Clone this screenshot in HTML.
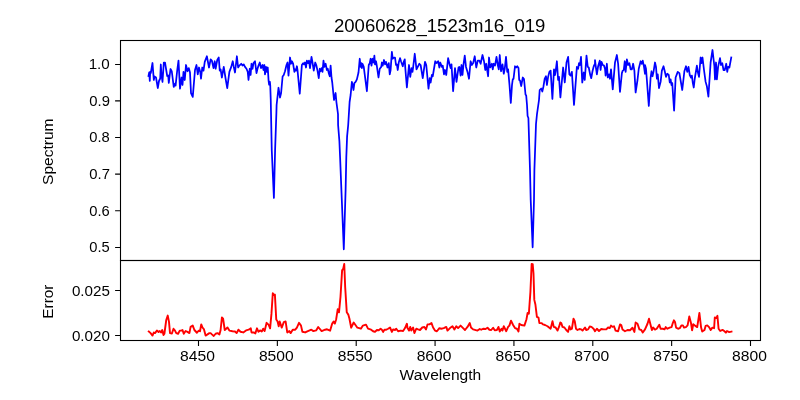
<!DOCTYPE html>
<html><head><meta charset="utf-8"><style>
html,body{margin:0;padding:0;background:#fff;overflow:hidden}
svg{display:block}
text{}
</style></head><body>
<svg width="800" height="400" viewBox="0 0 800 400">
<rect width="800" height="400" fill="#fff"/>
<g fill="none" stroke="#000" stroke-width="1.1" stroke-linecap="square">
<rect x="120.5" y="40.5" width="640" height="220"/>
<rect x="120.5" y="260.5" width="640" height="80"/>
</g>
<path d="M115.1 64.5H120 M115.1 100.9H120 M115.1 137.5H120 M115.1 174.1H120 M115.1 210.7H120 M115.1 247.5H120 M115.1 290.5H120 M115.1 335.5H120 M198.50 341V345.9 M277.36 341V345.9 M356.21 341V345.9 M435.07 341V345.9 M513.93 341V345.9 M592.79 341V345.9 M671.64 341V345.9 M750.50 341V345.9" stroke="#000" stroke-width="1.1" fill="none"/>
<polyline points="148.50,76.00 149.20,72.50 149.80,81.00 150.20,72.00 150.80,73.00 152.50,63.00 153.80,80.00 154.50,76.50 156.00,77.50 157.80,88.00 159.00,81.00 160.20,78.50 160.80,64.50 161.50,75.00 162.50,82.00 163.80,62.50 165.00,62.50 167.20,76.00 168.20,75.50 168.80,83.00 170.50,69.00 171.80,71.50 173.75,86.90 175.00,83.75 175.60,85.60 177.25,70.00 178.50,60.60 180.00,88.75 181.50,77.50 182.50,85.00 183.50,71.90 184.75,80.00 186.00,65.00 187.50,71.25 188.75,68.10 190.00,72.50 191.00,93.10 192.75,96.90 195.00,70.00 196.50,65.00 197.75,74.38 199.00,67.50 200.25,71.88 201.00,78.75 202.25,67.50 203.50,70.62 204.75,61.88 206.88,56.25 209.00,67.50 210.62,59.38 211.88,60.62 213.50,68.12 214.75,61.25 215.62,68.75 217.25,60.00 218.75,57.50 219.75,70.62 220.62,69.38 221.88,77.50 223.75,66.88 225.62,78.75 227.25,88.12 229.38,71.88 231.25,66.88 232.75,61.25 233.75,66.88 235.00,72.50 236.88,56.25 238.12,67.50 239.38,65.62 241.25,63.75 242.50,65.62 243.75,64.38 245.00,66.88 246.50,68.75 247.75,71.88 248.50,80.00 249.75,68.75 250.62,75.00 251.50,63.75 252.50,68.75 253.50,63.12 255.00,61.25 256.50,73.12 257.50,68.75 258.50,65.62 259.75,62.50 261.00,68.12 262.50,65.00 263.50,70.00 264.38,65.00 265.00,74.38 266.00,66.88 266.88,71.88 267.75,67.50 268.60,81.00 269.10,84.75 269.90,81.75 270.25,85.50 270.75,100.00 271.75,150.00 273.90,197.90 275.10,150.00 276.40,112.50 276.60,105.00 278.50,87.75 280.00,97.50 281.10,93.00 282.60,76.50 283.75,75.00 285.00,71.25 286.50,65.00 287.50,62.50 288.50,75.60 290.00,57.50 291.00,63.75 291.90,61.25 293.10,63.75 294.40,71.90 295.00,69.38 296.00,70.62 296.88,66.25 297.50,70.00 299.75,93.75 301.88,65.00 303.12,63.12 304.00,64.38 305.00,62.50 306.00,67.50 306.88,60.62 308.12,63.12 309.00,60.62 310.00,68.12 311.50,56.88 312.50,62.50 313.75,70.62 315.25,62.50 316.25,65.00 317.50,70.62 318.75,78.12 319.75,68.75 320.62,71.25 321.50,68.12 322.50,71.88 323.50,60.62 324.38,66.88 325.62,63.75 326.88,70.00 327.75,68.75 328.75,73.12 329.75,76.25 330.62,65.62 331.50,77.50 332.25,82.50 334.00,100.00 335.60,93.00 336.40,102.00 338.00,114.00 338.10,125.00 339.40,141.30 340.10,157.50 341.40,190.00 343.80,249.30 345.60,190.00 346.30,157.50 347.10,136.40 348.20,125.00 349.60,102.00 350.62,95.00 351.88,81.88 352.75,85.00 353.50,90.00 354.38,83.12 355.62,81.88 356.88,79.38 358.50,72.50 359.75,58.75 360.62,66.88 361.25,63.12 361.88,68.12 362.50,63.75 363.75,66.88 366.88,91.25 368.75,65.00 369.75,63.12 370.62,58.75 371.50,65.62 372.50,58.75 373.50,62.50 374.38,55.62 375.00,64.38 376.00,61.25 376.88,66.25 378.50,77.50 379.75,68.75 381.25,66.88 381.88,62.50 382.75,65.62 384.00,60.00 385.00,64.38 386.00,61.88 387.50,67.50 388.75,63.12 389.75,74.38 390.62,70.00 391.88,51.88 392.75,58.75 394.00,57.50 395.00,57.50 396.00,65.00 396.88,64.38 397.75,70.00 398.75,62.50 400.00,58.12 401.00,61.25 401.88,63.75 402.75,66.25 403.75,61.88 404.75,59.38 405.25,67.50 406.88,87.50 409.00,65.00 410.25,76.88 411.50,68.12 412.50,71.88 413.12,67.50 414.75,53.75 416.50,69.38 417.75,66.88 419.38,63.75 420.62,65.00 422.75,78.12 425.00,61.88 426.25,65.00 428.50,88.75 429.75,78.12 430.62,82.50 431.88,75.00 432.75,76.25 435.25,61.25 436.50,63.12 438.12,61.25 439.38,67.50 440.25,62.50 441.88,66.88 442.75,65.62 444.00,74.38 445.00,70.00 446.25,75.00 448.12,58.12 449.75,65.00 450.62,68.12 451.50,64.38 453.12,91.25 455.00,68.12 456.50,81.88 458.50,67.50 459.38,66.88 460.62,75.62 461.50,65.00 462.50,75.00 463.50,64.38 464.75,55.62 466.00,66.88 467.50,71.88 469.00,78.75 470.62,61.25 471.88,65.00 473.12,63.12 474.75,56.25 476.25,67.50 477.75,60.62 479.38,60.62 480.62,63.75 482.50,55.00 484.00,61.25 485.25,70.00 486.25,63.75 488.12,76.25 489.00,57.50 490.25,67.50 491.88,63.75 492.75,69.38 493.75,63.75 495.00,65.62 496.50,56.88 497.75,65.00 498.75,69.38 499.75,55.00 501.00,71.25 502.50,64.38 503.75,73.75 504.75,68.75 506.00,56.88 507.25,71.88 508.12,69.38 509.50,85.00 510.80,103.00 512.00,85.00 512.80,79.00 513.50,79.00 515.00,66.25 516.25,67.50 517.25,66.25 518.50,68.10 519.20,80.00 520.00,80.50 521.20,86.00 522.80,77.50 524.00,79.00 525.50,94.50 526.20,95.50 527.00,105.00 527.60,116.00 528.40,118.00 530.00,170.00 530.70,200.00 532.65,247.30 534.00,200.00 534.40,170.00 536.00,124.00 537.00,114.00 539.00,100.00 539.70,90.00 541.20,88.50 542.30,91.50 543.50,86.20 544.70,78.70 545.00,78.12 546.00,76.25 546.88,85.00 548.12,76.88 549.38,71.88 550.62,70.62 552.40,99.00 554.00,69.38 555.00,75.00 555.62,71.25 556.88,61.25 558.12,80.00 559.00,76.88 560.40,97.50 563.12,67.50 564.75,82.50 566.50,62.50 568.12,56.88 569.38,74.38 570.62,75.62 571.88,71.88 574.00,105.00 576.88,66.88 578.12,68.75 579.00,63.12 580.00,65.00 581.00,56.88 582.25,82.50 583.75,72.50 584.75,80.00 586.50,55.62 587.75,66.88 588.75,67.50 590.25,75.00 591.25,78.12 592.50,71.25 593.75,66.25 595.00,63.75 595.00,60.00 596.00,68.12 596.88,74.38 598.12,66.25 599.75,60.62 600.62,70.00 601.50,61.88 602.75,65.00 604.00,65.62 605.00,68.75 605.62,75.62 606.88,63.75 607.75,77.50 609.00,74.38 610.00,78.75 611.00,69.38 612.75,89.38 615.00,62.50 616.88,55.00 618.12,63.75 620.00,91.88 621.88,73.12 622.75,70.62 623.75,70.00 624.75,61.25 625.62,71.88 626.88,59.38 628.12,65.00 629.38,63.12 630.62,69.38 631.88,69.38 633.12,63.75 634.38,70.62 635.62,92.50 637.50,80.00 638.75,68.75 640.62,61.25 641.88,63.75 642.75,60.62 644.00,66.88 645.00,73.75 645.00,65.00 646.00,68.75 646.88,80.00 648.80,106.00 650.62,77.50 651.50,71.25 652.50,76.25 653.50,71.88 655.00,62.50 656.00,66.88 656.88,78.75 657.75,74.38 659.00,88.12 660.62,81.88 661.88,70.62 663.50,66.25 664.75,71.25 666.00,76.88 667.25,73.75 668.75,75.00 669.75,82.50 670.62,79.38 671.50,85.00 672.25,83.12 674.10,110.60 675.62,77.50 677.75,71.88 679.38,73.12 682.25,90.00 684.38,71.25 686.00,66.25 687.25,71.88 688.50,66.88 689.75,75.00 691.00,77.50 691.88,75.62 692.75,82.50 693.75,87.50 694.75,78.75 696.88,65.62 697.75,71.88 699.00,76.88 700.62,57.50 701.50,63.12 702.50,57.50 704.00,70.00 705.62,81.88 706.88,86.25 708.40,96.60 710.62,62.50 712.50,50.00 714.38,66.25 715.00,79.38 716.00,62.50 716.88,79.38 718.12,66.88 720.00,58.12 721.00,65.00 722.25,63.12 723.50,70.00 724.75,70.00 726.25,63.75 727.25,71.88 728.12,66.88 729.38,67.50 731.25,57.50" fill="none" stroke="#0000ff" stroke-width="1.75" stroke-linejoin="round" stroke-linecap="square"/>
<polyline points="148.75,331.50 150.60,333.10 152.50,335.60 153.75,332.50 155.00,333.10 156.90,330.60 158.50,331.90 159.75,331.00 161.00,332.50 162.25,330.00 163.50,335.00 164.40,333.75 166.25,320.00 167.75,315.60 169.00,321.90 170.00,333.10 171.90,333.50 173.50,328.75 175.00,330.60 176.25,333.10 178.10,333.75 179.75,330.60 181.25,330.60 182.50,330.00 183.75,333.75 185.60,331.00 187.50,331.90 189.40,333.10 190.60,326.90 192.75,325.60 194.40,330.00 196.90,332.75 198.75,330.60 200.00,331.25 201.25,324.40 202.50,327.50 204.00,329.40 205.60,335.60 207.50,334.40 209.40,333.10 210.60,333.10 211.90,334.40 213.75,336.00 215.60,333.75 217.50,333.10 219.40,334.40 220.60,330.00 221.90,317.50 223.10,318.75 224.75,330.00 227.50,327.50 229.40,330.60 232.50,331.25 235.00,331.50 236.65,333.10 238.40,329.70 240.50,331.75 243.25,332.45 246.00,330.40 248.75,329.70 250.80,328.30 251.50,332.45 253.60,332.45 255.35,333.40 257.00,328.30 258.40,331.75 260.40,330.40 261.80,331.50 263.20,328.70 264.60,331.10 266.60,322.80 268.70,324.90 270.10,328.30 271.45,313.90 272.80,293.25 274.20,295.30 274.90,294.60 276.25,319.40 277.60,321.45 278.70,326.30 279.70,321.45 281.75,327.60 283.80,322.10 285.60,321.45 287.25,332.45 289.30,331.10 290.70,333.10 292.75,329.70 295.25,329.70 296.90,327.60 299.00,322.80 301.00,325.60 302.40,331.75 305.15,332.45 307.90,331.10 311.35,329.70 313.40,331.10 316.15,330.40 318.20,327.00 321.65,331.10 325.10,329.70 327.00,329.30 330.10,330.70 332.20,323.60 333.60,321.50 334.80,323.60 336.20,319.20 337.75,309.20 339.00,312.30 340.50,296.75 342.10,270.40 343.20,268.85 344.25,264.00 345.20,287.50 346.75,312.30 348.30,314.60 349.40,318.50 351.20,327.70 353.70,322.50 357.40,327.70 360.90,328.70 362.90,325.60 366.00,324.60 368.00,328.70 371.10,329.70 373.10,331.25 375.00,331.90 376.90,330.00 378.75,330.25 380.60,328.75 381.90,329.75 383.10,331.90 384.40,329.75 386.25,329.75 388.10,328.75 390.00,327.50 391.90,331.90 393.10,329.40 395.00,330.00 396.25,328.75 398.10,331.25 400.60,330.60 403.10,331.00 405.00,328.10 406.90,323.75 407.50,328.10 409.00,330.60 410.25,326.90 411.25,330.60 413.10,327.50 414.40,333.10 416.25,328.75 418.10,329.40 420.00,330.00 422.25,327.50 424.40,326.90 426.00,329.40 427.50,324.40 429.40,324.40 431.50,323.10 433.10,327.50 435.00,330.60 436.90,331.25 439.40,328.10 441.25,328.75 443.75,328.10 446.25,326.90 447.50,330.60 450.00,328.10 452.50,326.25 454.40,329.40 456.25,326.25 458.10,328.10 460.60,325.60 463.10,328.10 465.00,330.00 467.50,326.90 469.75,323.10 471.00,327.50 473.10,329.40 477.50,330.60 479.75,329.00 481.25,329.75 483.10,328.75 485.60,329.00 487.50,327.75 489.40,329.75 491.25,330.00 493.10,327.75 494.75,330.25 496.90,330.00 498.50,326.90 499.75,331.50 501.50,328.75 502.50,330.60 503.75,326.25 506.25,331.25 508.10,326.90 509.40,325.60 511.00,320.60 513.10,325.00 515.00,328.10 516.90,328.75 518.50,331.50 519.40,323.75 521.25,325.00 524.40,325.60 526.50,319.20 527.60,313.00 528.85,313.80 530.40,292.10 531.65,264.00 532.70,264.20 533.50,273.50 534.30,299.90 535.40,304.50 536.90,316.90 538.50,317.70 539.40,323.10 541.50,323.10 543.10,324.40 545.00,325.00 547.50,326.25 550.60,328.75 552.50,321.25 553.75,326.90 555.60,327.50 557.50,330.60 559.00,326.90 560.30,322.50 561.25,323.10 562.50,326.90 564.40,327.50 566.25,330.00 568.10,331.90 569.40,326.25 570.60,329.40 571.90,328.75 573.50,318.75 574.75,321.25 576.00,328.75 577.50,330.00 579.40,329.00 581.25,329.40 582.50,330.60 585.00,327.50 586.25,330.00 588.10,329.40 589.75,326.50 591.50,326.90 593.75,329.00 595.00,331.25 596.90,328.75 599.00,331.00 601.25,329.00 603.75,329.40 606.25,329.40 608.10,327.50 609.75,328.10 611.00,325.60 612.50,326.90 614.00,326.25 615.60,330.60 618.10,331.25 620.00,324.40 621.25,325.00 622.50,329.40 625.00,331.25 627.50,330.00 630.00,330.25 632.50,327.75 634.40,331.90 635.60,322.50 637.50,323.75 639.40,329.40 641.25,330.00 642.75,332.50 645.00,329.40 647.50,323.75 649.00,318.75 650.60,325.00 651.90,330.00 653.10,327.50 655.00,329.60 656.70,328.75 659.30,324.80 660.60,328.75 662.90,328.75 664.60,329.30 665.70,327.10 667.40,328.75 669.60,327.60 671.60,327.10 672.80,323.10 673.90,320.30 675.00,322.00 676.10,327.60 678.10,328.75 679.75,328.20 681.40,325.40 682.90,325.40 684.00,327.60 685.90,327.10 687.60,325.40 689.30,316.40 691.00,323.10 692.10,330.40 693.25,324.25 695.50,325.90 697.20,327.10 699.40,313.00 701.10,327.60 702.20,331.60 704.50,329.90 705.60,325.90 707.30,325.40 709.00,327.10 710.70,329.90 712.40,327.60 714.10,328.20 714.80,317.50 716.30,318.10 717.40,315.80 718.60,328.75 720.20,331.00 722.50,329.90 724.20,331.00 725.90,332.70 727.00,331.00 729.20,332.10 731.50,331.60" fill="none" stroke="#ff0000" stroke-width="1.9" stroke-linejoin="round" stroke-linecap="square"/>
<g fill="#000" style="font-family:'Liberation Sans', sans-serif" opacity="0.999">
<text transform="translate(88.68,69.00) scale(1.0778,1)" font-size="14.10">1.0</text>
<text transform="translate(89.31,106.20) scale(1.0529,1)" font-size="14.10">0.9</text>
<text transform="translate(89.31,142.00) scale(1.0449,1)" font-size="14.10">0.8</text>
<text transform="translate(89.31,178.60) scale(1.0529,1)" font-size="14.10">0.7</text>
<text transform="translate(89.31,216.20) scale(1.0449,1)" font-size="14.10">0.6</text>
<text transform="translate(89.31,252.00) scale(1.0449,1)" font-size="14.10">0.5</text>
<text transform="translate(71.89,295.90) scale(1.0785,1)" font-size="14.10">0.025</text>
<text transform="translate(71.89,340.90) scale(1.0785,1)" font-size="14.10">0.020</text>
<text transform="translate(180.07,361.00) scale(1.1102,1)" font-size="14.10">8450</text>
<text transform="translate(258.93,361.00) scale(1.1102,1)" font-size="14.10">8500</text>
<text transform="translate(337.79,361.00) scale(1.1102,1)" font-size="14.10">8550</text>
<text transform="translate(416.65,361.00) scale(1.1102,1)" font-size="14.10">8600</text>
<text transform="translate(495.50,361.00) scale(1.1102,1)" font-size="14.10">8650</text>
<text transform="translate(574.36,361.00) scale(1.1102,1)" font-size="14.10">8700</text>
<text transform="translate(653.22,361.00) scale(1.1102,1)" font-size="14.10">8750</text>
<text transform="translate(732.07,361.00) scale(1.1102,1)" font-size="14.10">8800</text>
<text transform="translate(333.97,31.90) scale(0.9993,1)" font-size="18.57">20060628_1523m16_019</text>
<text transform="translate(399.59,380.00) scale(1.1089,1)" font-size="14.04">Wavelength</text>
<text transform="translate(53.20,184.98) rotate(-90) scale(1.1030,1)" font-size="14.10">Spectrum</text>
<text transform="translate(53.00,318.73) rotate(-90) scale(1.0905,1)" font-size="14.10">Error</text>
</g>
</svg>
</body></html>
